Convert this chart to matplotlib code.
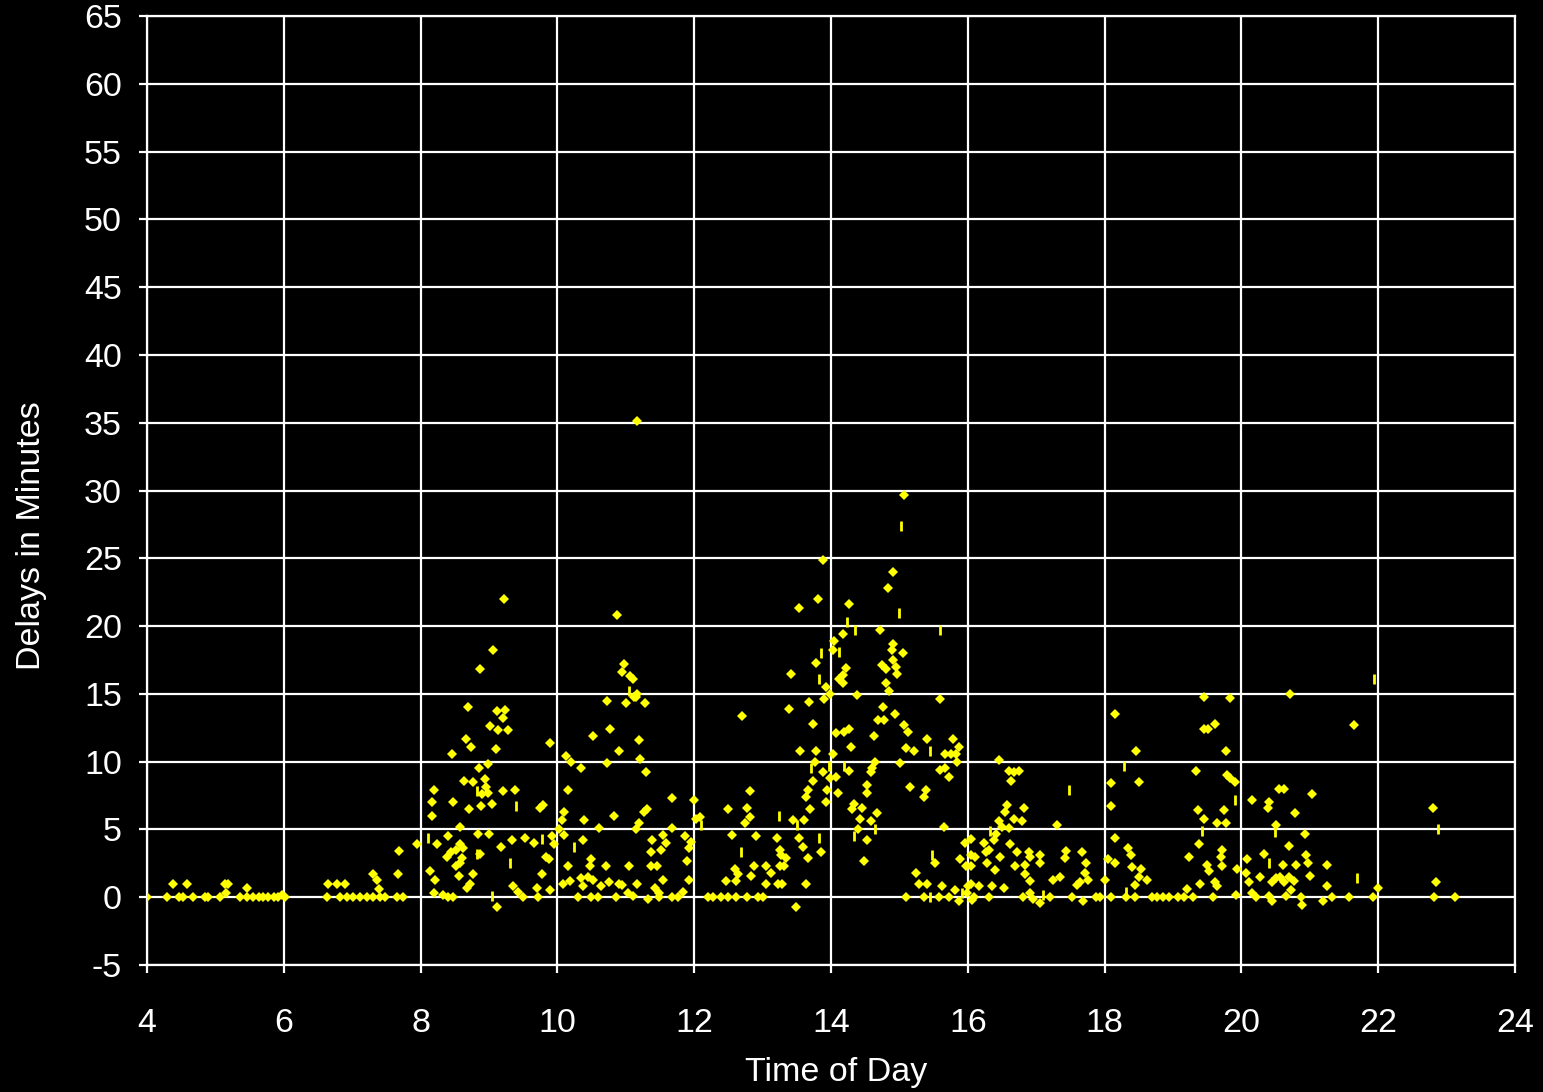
"""
Delays vs time of day scatter, black background.
"""

import matplotlib
matplotlib.use("Agg")
import matplotlib.pyplot as plt
import numpy as np

# ----------------------------------------------------------------------------------------------------------------------
# Data (time of day in hours, delay in minutes)

# Diamond markers
diamonds_04_08 = [
    (4.00, 0), (4.29, 0), (4.38, 1.0), (4.46, 0), (4.53, 0), (4.58, 1.0), (4.67, 0), (4.85, 0), (4.89, 0),
    (5.07, 0), (5.14, 1.0), (5.15, 0.3), (5.18, 1.0), (5.36, 0), (5.46, 0), (5.46, 0.7), (5.55, 0), (5.63, 0),
    (5.70, 0), (5.77, 0), (5.85, 0), (5.92, 0), (5.97, 0.2), (6.02, 0),
    (6.63, 0), (6.65, 1.0), (6.78, 1.0), (6.82, 0), (6.90, 1.0), (6.92, 0), (7.01, 0), (7.11, 0), (7.21, 0),
    (7.30, 0), (7.30, 1.7), (7.36, 1.3), (7.39, 0.6), (7.40, 0), (7.48, 0), (7.65, 0), (7.67, 1.7), (7.69, 3.4),
    (7.74, 0), (7.95, 3.9),
]

diamonds_08_10 = [
    (8.69, 14.0), (9.12, 13.7), (9.23, 13.8), (9.21, 13.2), (9.02, 12.6), (9.13, 12.3), (9.28, 12.3),
    (8.67, 11.7), (8.73, 11.1), (9.89, 11.4), (9.10, 10.9), (8.46, 10.6), (8.99, 9.8), (8.85, 9.5),
    (8.63, 8.6), (8.77, 8.5), (8.94, 8.7), (8.96, 8.1), (8.99, 7.7), (8.90, 7.6), (9.21, 7.8), (9.38, 7.9),
    (8.19, 7.9), (8.16, 7.0), (8.47, 7.0), (9.05, 6.9), (8.89, 6.7), (8.71, 6.5), (9.79, 6.8), (9.75, 6.6),
    (8.16, 6.0), (8.57, 5.2), (8.24, 3.9), (8.40, 4.5), (8.84, 4.7), (9.00, 4.7), (9.33, 4.2), (9.53, 4.4),
    (9.66, 4.0), (9.92, 4.5), (9.95, 3.9), (8.57, 3.9), (8.62, 3.6), (8.52, 3.5), (8.45, 3.3), (8.38, 3.0),
    (8.60, 2.9), (8.57, 2.5), (8.52, 2.3), (8.87, 3.2), (9.17, 3.7), (9.83, 3.0), (9.88, 2.8), (8.13, 1.9),
    (8.21, 1.3), (8.56, 1.6), (8.77, 1.7), (8.72, 1.0), (8.68, 0.7), (9.77, 1.7), (9.35, 0.8), (9.43, 0.4),
    (9.50, 0.0), (9.70, 0.7), (9.72, 0.0), (9.89, 0.5), (8.19, 0.3), (8.33, 0.2), (8.40, 0.0), (8.47, 0.0),
    (9.12, -0.7), (9.22, 22.0), (9.06, 18.2), (8.87, 16.8),
]

diamonds_10_12 = [
    (10.73, 14.5), (11.01, 14.3), (11.12, 14.8), (11.28, 14.3), (10.52, 11.9), (10.77, 12.4), (11.19, 11.6),
    (10.90, 10.8), (10.13, 10.4), (10.20, 10.0), (10.72, 9.9), (11.21, 10.2), (10.34, 9.5), (11.30, 9.2),
    (10.16, 7.9), (11.31, 6.5), (11.27, 6.3), (11.67, 7.3), (11.99, 7.2), (10.09, 6.3), (10.06, 5.7),
    (10.39, 5.7), (10.83, 6.0), (11.20, 5.5), (11.15, 5.0), (10.61, 5.1), (10.03, 5.0), (10.10, 4.6),
    (10.38, 4.2), (11.39, 4.2), (11.54, 4.6), (11.59, 4.0), (11.51, 3.5), (11.37, 3.3), (11.68, 5.1),
    (11.87, 4.5), (11.95, 4.1), (11.92, 3.6), (12.02, 5.8), (10.49, 2.8), (10.47, 2.3), (10.15, 2.3),
    (10.71, 2.3), (11.05, 2.3), (11.37, 2.3), (11.45, 2.3), (11.89, 2.7), (10.35, 1.4), (10.44, 1.5),
    (10.52, 1.3), (10.08, 1.0), (10.18, 1.2), (10.37, 0.8), (10.64, 0.8), (10.76, 1.1), (10.90, 1.0),
    (10.94, 0.9), (11.17, 1.0), (11.54, 1.3), (11.92, 1.3), (11.42, 0.7), (11.48, 0.3), (11.83, 0.4),
    (10.30, 0.0), (10.49, 0.0), (10.59, 0.0), (10.86, 0.0), (11.03, 0.3), (11.11, 0.1), (11.33, -0.1),
    (11.49, 0.0), (11.68, 0.0), (11.76, 0.0), (10.87, 20.8), (10.97, 17.2), (10.95, 16.6), (11.06, 16.3),
    (11.10, 16.1), (11.17, 15.0), (11.15, 14.8), (11.16, 35.1),
]

diamonds_12_14 = [
    (12.70, 13.4), (13.38, 13.9), (13.68, 14.4), (13.90, 14.6), (13.98, 15.0), (13.74, 12.8), (14.07, 12.1),
    (13.54, 10.8), (13.78, 10.8), (14.03, 10.6), (13.77, 10.0), (13.88, 9.2), (13.74, 8.6), (13.98, 8.8),
    (14.07, 8.9), (13.94, 7.9), (14.10, 7.7), (13.66, 7.9), (13.64, 7.4), (13.92, 7.0), (13.70, 6.5),
    (12.82, 7.8), (12.49, 6.5), (12.77, 6.6), (12.81, 5.9), (12.75, 5.5), (12.08, 5.9), (13.44, 5.7),
    (13.61, 5.7), (12.56, 4.6), (12.91, 4.5), (13.21, 4.4), (13.53, 4.4), (13.59, 3.7), (13.85, 3.3),
    (13.66, 2.9), (13.25, 3.5), (13.27, 3.1), (13.34, 2.9), (12.64, 1.7), (12.59, 2.1), (12.88, 2.3),
    (12.83, 1.6), (13.05, 2.3), (13.12, 1.8), (13.05, 1.0), (13.25, 2.3), (13.32, 2.3), (12.47, 1.2),
    (12.61, 1.2), (13.22, 1.0), (13.29, 1.0), (13.63, 1.0), (12.20, 0), (12.27, 0), (12.39, 0), (12.49, 0),
    (12.61, 0), (12.77, 0), (12.93, 0), (13.00, 0), (13.49, -0.7), (13.89, 24.9), (13.81, 22.0),
    (13.53, 21.3), (13.78, 17.3), (13.41, 16.5), (13.93, 15.5),
]

diamonds_14_16 = [
    (15.07, 29.7), (14.90, 24.0), (14.84, 22.8), (14.26, 21.6), (14.72, 19.7), (14.17, 19.4), (14.05, 18.9),
    (14.03, 18.2), (14.90, 18.7), (14.89, 18.2), (15.06, 18.0), (14.91, 17.5), (14.95, 17.0), (14.74, 17.1),
    (14.81, 16.8), (14.97, 16.5), (14.22, 16.9), (14.17, 16.4), (14.11, 16.1), (14.18, 15.8), (14.81, 15.8),
    (14.85, 15.2), (14.38, 14.9), (15.60, 14.6), (14.76, 14.0), (14.69, 13.1), (14.77, 13.1), (14.94, 13.5),
    (14.19, 12.2), (14.26, 12.4), (14.63, 11.9), (15.07, 12.7), (15.13, 12.2), (15.41, 11.7), (15.78, 11.7),
    (15.87, 11.1), (14.29, 11.1), (15.09, 11.0), (15.21, 10.8), (15.67, 10.6), (15.75, 10.6), (15.83, 10.6),
    (15.84, 10.0), (14.65, 10.0), (15.01, 9.9), (14.60, 9.5), (14.58, 9.2), (14.26, 9.3), (15.60, 9.4),
    (15.67, 9.5), (15.72, 8.9), (14.53, 8.3), (14.52, 7.7), (15.15, 8.1), (15.39, 7.9), (15.36, 7.4),
    (14.34, 6.9), (14.30, 6.5), (14.46, 6.6), (14.43, 5.8), (14.68, 6.2), (14.58, 5.6), (15.65, 5.2),
    (14.40, 5.0), (14.53, 4.2), (14.48, 2.7), (15.96, 4.0), (16.05, 4.3), (15.89, 2.8), (15.52, 2.5),
    (15.25, 1.8), (15.28, 1.0), (15.41, 1.0), (15.62, 0.8), (15.82, 0.5), (15.10, 0), (15.36, 0), (15.58, 0),
    (15.72, 0), (15.87, -0.3), (16.01, 0.8), (16.04, 2.3), (16.11, 3.0), (16.09, 0),
]

diamonds_16_18 = [
    (16.45, 10.1), (16.60, 9.3), (16.67, 9.2), (16.75, 9.3), (16.63, 8.6), (16.57, 6.8), (16.55, 6.3),
    (16.82, 6.6), (16.68, 5.8), (16.79, 5.6), (16.46, 5.6), (16.50, 5.2), (16.60, 5.1), (17.30, 5.3),
    (16.42, 4.7), (16.38, 4.2), (16.23, 4.0), (16.62, 3.9), (16.31, 3.5), (16.04, 3.1), (16.26, 3.3),
    (16.47, 3.0), (16.72, 3.3), (16.89, 3.3), (16.91, 3.0), (17.06, 3.1), (17.06, 2.5), (17.44, 3.4),
    (17.42, 2.9), (17.67, 3.3), (17.73, 2.5), (15.97, 2.3), (16.28, 2.5), (16.40, 2.0), (16.69, 2.3),
    (16.84, 2.4), (16.84, 1.7), (17.71, 1.8), (17.76, 1.3), (16.91, 1.2), (17.25, 1.3), (17.35, 1.5),
    (17.59, 0.9), (17.64, 1.1), (16.04, 1.0), (16.16, 0.8), (16.35, 0.8), (16.53, 0.7), (15.99, 0.3),
    (16.06, -0.2), (16.31, 0), (16.81, 0), (16.91, 0.3), (16.96, -0.1), (17.06, -0.4), (17.20, 0),
    (17.52, 0), (17.69, -0.3), (17.88, 0),
]

diamonds_18_20 = [
    (19.46, 14.8), (19.83, 14.7), (19.62, 12.8), (19.45, 12.4), (19.51, 12.4), (18.16, 13.5), (18.46, 10.8),
    (19.77, 10.8), (19.34, 9.3), (19.79, 9.0), (19.83, 8.8), (19.90, 8.5), (18.10, 8.4), (18.50, 8.5),
    (18.09, 6.7), (19.36, 6.4), (19.75, 6.4), (19.45, 5.8), (19.65, 5.5), (19.77, 5.5), (18.15, 4.4),
    (19.38, 3.9), (19.71, 3.5), (19.70, 3.0), (18.34, 3.6), (18.38, 3.1), (19.23, 3.0), (18.05, 2.8),
    (18.15, 2.5), (18.40, 2.2), (18.54, 2.1), (19.50, 2.4), (19.52, 1.9), (19.72, 2.3), (19.93, 2.1),
    (18.00, 1.3), (18.50, 1.5), (18.62, 1.3), (18.44, 0.9), (19.62, 1.1), (19.64, 0.8), (19.40, 1.0),
    (19.20, 0.6), (17.94, 0), (18.09, 0), (18.31, 0), (18.44, 0), (18.69, 0), (18.77, 0), (18.86, 0),
    (18.94, 0), (19.08, 0), (19.16, 0), (19.30, 0), (19.58, 0), (19.92, 0.2),
]

diamonds_20_24 = [
    (20.71, 15.0), (21.64, 12.7), (21.03, 7.6), (20.55, 8.0), (20.62, 8.0), (20.16, 7.2), (20.40, 7.0),
    (20.39, 6.6), (20.79, 6.2), (22.80, 6.6), (20.50, 5.3), (20.93, 4.7), (20.69, 3.8), (20.33, 3.2),
    (20.09, 2.8), (20.94, 3.1), (20.97, 2.5), (20.61, 2.4), (20.80, 2.4), (21.25, 2.4), (21.01, 1.6),
    (20.27, 1.5), (20.50, 1.4), (20.57, 1.5), (20.62, 1.1), (20.70, 1.5), (20.77, 1.2), (20.45, 1.1),
    (21.25, 0.8), (22.00, 0.7), (22.85, 1.1), (20.16, 0.3), (20.22, 0), (20.40, 0.1), (20.45, -0.3),
    (20.65, 0.1), (20.73, 0.5), (20.87, 0), (20.88, -0.6), (21.20, -0.3), (21.32, 0), (21.58, 0),
    (21.93, 0), (22.81, 0), (23.12, 0), (20.07, 1.8), (20.11, 1.1),
]

# Short vertical dash markers
dashes = [
    (8.11, 4.4), (8.82, 7.8), (9.39, 6.7), (8.82, 3.2), (9.31, 2.5), (9.05, 0.1), (9.78, 4.3), (10.24, 3.7),
    (11.04, 15.2), (13.24, 6.0), (12.69, 3.3), (12.10, 5.3), (13.83, 4.4), (13.71, 9.5), (13.97, 9.7),
    (13.51, 5.3), (15.02, 27.4), (15.00, 21.0), (14.23, 20.3), (14.35, 19.7), (15.59, 19.7), (13.85, 18.0),
    (14.11, 18.1), (13.83, 16.1), (15.45, 10.8), (14.19, 9.7), (14.34, 4.5), (14.65, 5.0), (15.47, 3.1),
    (15.45, 0.0), (15.92, 0.3), (17.48, 7.9), (16.33, 4.9), (17.10, 0.2), (18.28, 9.7), (19.91, 7.2),
    (19.42, 4.9), (18.31, 0.4), (21.94, 16.1), (22.87, 5.0), (20.49, 4.8), (20.41, 2.5), (21.69, 1.4),
]

x_ticks = list(range(4, 25, 2))
y_ticks = list(range(-5, 66, 5))

# ----------------------------------------------------------------------------------------------------------------------

plt.rcParams['font.family'] = ['Liberation Sans', 'DejaVu Sans']
plt.rcParams['font.size'] = 24.5
plt.rcParams['axes.unicode_minus'] = False

fig = plt.figure(figsize=(15.43, 10.92), dpi=100, facecolor='black')
ax = fig.add_axes([0.0953, 0.1163, 0.8865, 0.869])
ax.set_facecolor('black')

# Load data
allDiamonds = np.array(diamonds_04_08 + diamonds_08_10 + diamonds_10_12 + diamonds_12_14 +
                       diamonds_14_16 + diamonds_16_18 + diamonds_18_20 + diamonds_20_24)
allDashes = np.array(dashes)

ax.plot(allDiamonds[:, 0], allDiamonds[:, 1], linestyle='none', marker='D', markersize=4.8,
        color='#FFFF00', markeredgewidth=0, zorder=3)
ax.plot(allDashes[:, 0], allDashes[:, 1], linestyle='none', marker='|', markersize=7,
        markeredgewidth=2, color='#FFFF00', zorder=3)

# Set layout
ax.set_xlim(4, 24)
ax.set_ylim(-5, 65)
ax.set_xticks(x_ticks)
ax.set_yticks(y_ticks)
ax.grid(True, color='white', linewidth=1.6)
ax.set_axisbelow(True)
for spine in ax.spines.values():
    spine.set_color('white')
    spine.set_linewidth(1.6)
ax.tick_params(colors='white', length=6, width=1.6, direction='out')
ax.tick_params(axis='x', pad=25)
ax.tick_params(axis='y', pad=12)
ax.set_xlabel('Time of Day', color='white')
ax.set_ylabel('Delays in Minutes', color='white')
ax.xaxis.set_label_coords(0.504, -0.097)
ax.yaxis.set_label_coords(-0.073, 0.453)

fig.savefig('out.png', dpi=100, facecolor='black')
